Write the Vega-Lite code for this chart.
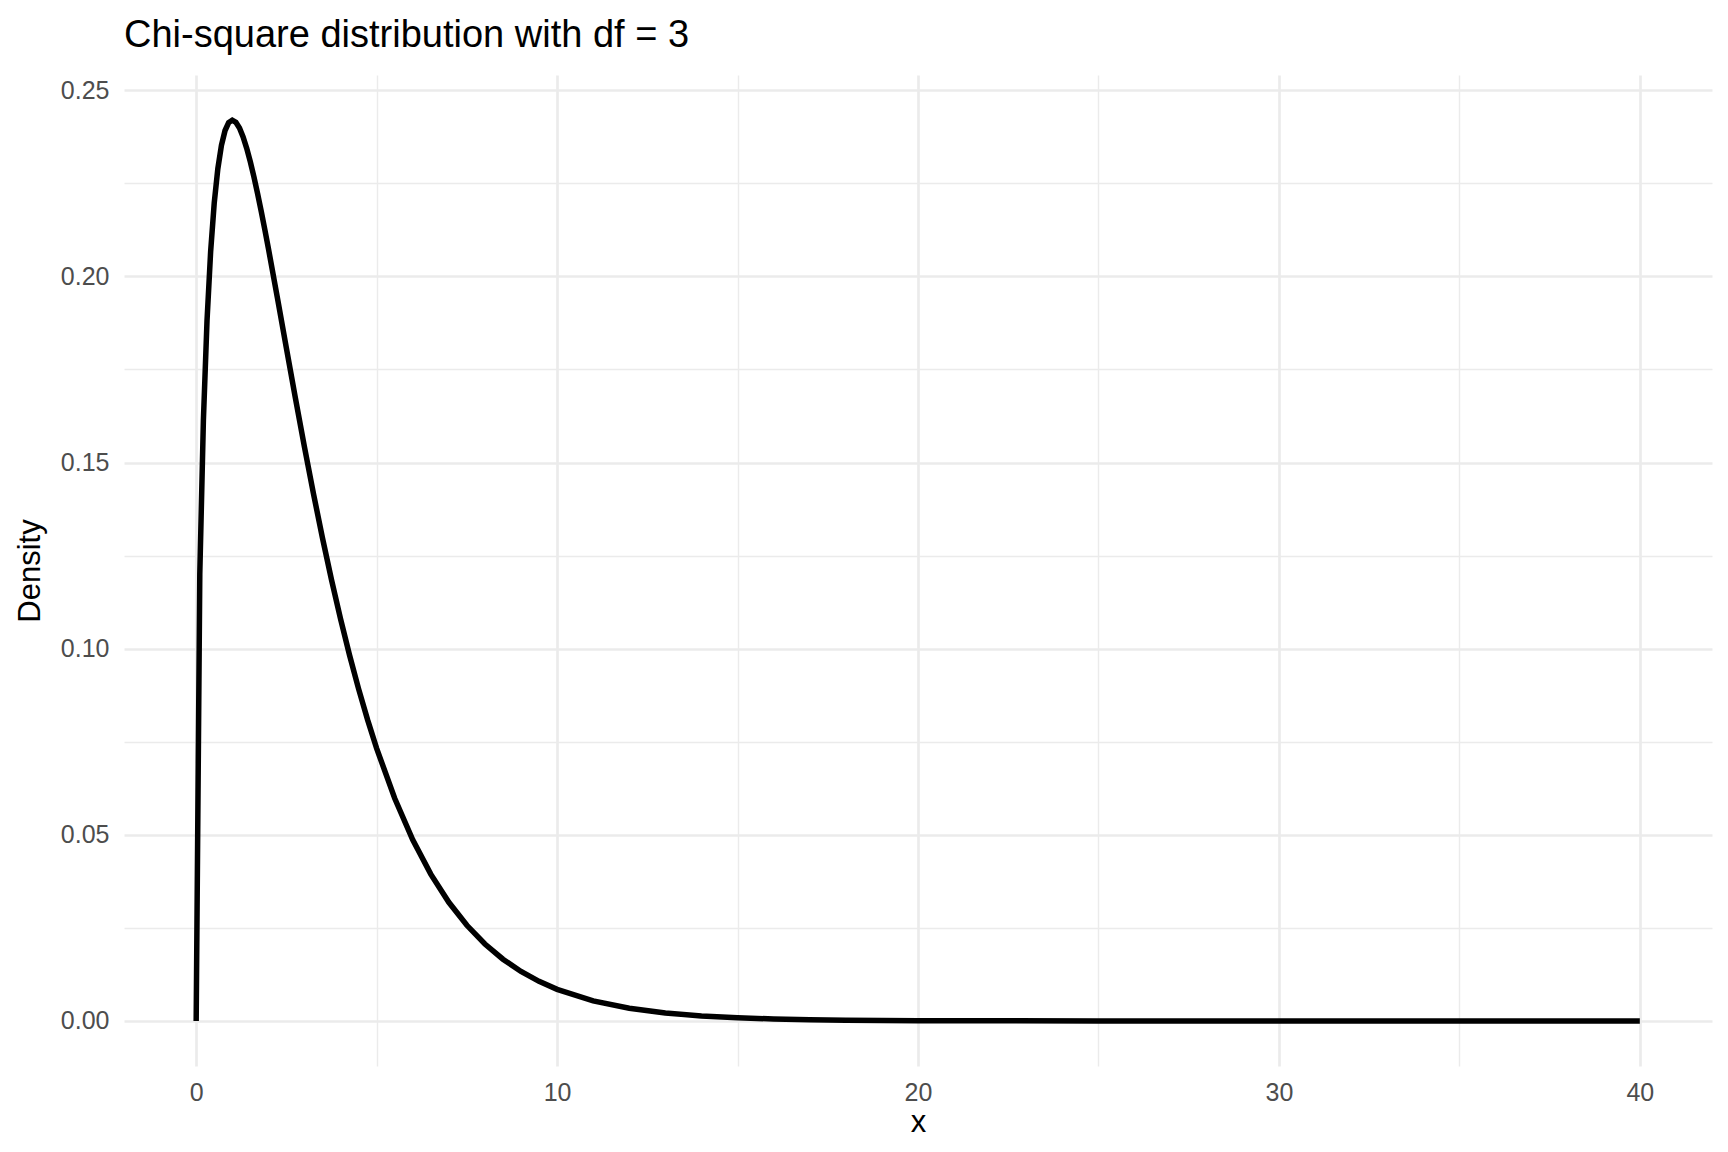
{
  "$schema": "https://vega.github.io/schema/vega-lite/v6.json",
  "width": 1588,
  "height": 991,
  "autosize": {"type": "none"},
  "padding": {"left": 124, "top": 75, "right": 16, "bottom": 86},
  "background": "white",
  "title": {
    "text": "Chi-square distribution with df = 3",
    "anchor": "start",
    "frame": "group",
    "font": "Liberation Sans",
    "fontSize": 38,
    "fontWeight": "normal",
    "color": "black",
    "baseline": "bottom",
    "offset": 22,
    "dy": 40
  },
  "config": {
    "view": {"stroke": null},
    "font": "Liberation Sans"
  },
  "data": {
    "values": [
      {"x": 0, "density": 0},
      {"x": 0.1, "density": 0.120004},
      {"x": 0.2, "density": 0.161434},
      {"x": 0.3, "density": 0.188073},
      {"x": 0.4, "density": 0.206576},
      {"x": 0.5, "density": 0.219696},
      {"x": 0.6, "density": 0.228927},
      {"x": 0.7, "density": 0.23521},
      {"x": 0.8, "density": 0.239187},
      {"x": 0.9, "density": 0.241323},
      {"x": 1.0, "density": 0.241971},
      {"x": 1.1, "density": 0.241404},
      {"x": 1.2, "density": 0.239842},
      {"x": 1.3, "density": 0.237459},
      {"x": 1.4, "density": 0.234405},
      {"x": 1.5, "density": 0.230797},
      {"x": 1.6, "density": 0.226743},
      {"x": 1.7, "density": 0.222323},
      {"x": 1.8, "density": 0.217611},
      {"x": 1.9, "density": 0.21267},
      {"x": 2.0, "density": 0.207554},
      {"x": 2.25, "density": 0.194275},
      {"x": 2.5, "density": 0.180721},
      {"x": 2.75, "density": 0.167271},
      {"x": 3.0, "density": 0.15418},
      {"x": 3.25, "density": 0.14162},
      {"x": 3.5, "density": 0.129697},
      {"x": 3.75, "density": 0.118474},
      {"x": 4.0, "density": 0.107982},
      {"x": 4.25, "density": 0.098227},
      {"x": 4.5, "density": 0.089198},
      {"x": 4.75, "density": 0.080873},
      {"x": 5.0, "density": 0.073225},
      {"x": 5.5, "density": 0.059811},
      {"x": 6.0, "density": 0.048652},
      {"x": 6.5, "density": 0.039437},
      {"x": 7.0, "density": 0.031873},
      {"x": 7.5, "density": 0.025695},
      {"x": 8.0, "density": 0.020667},
      {"x": 8.5, "density": 0.016591},
      {"x": 9.0, "density": 0.013296},
      {"x": 9.5, "density": 0.010639},
      {"x": 10, "density": 0.0085},
      {"x": 11, "density": 0.005408},
      {"x": 12, "density": 0.003426},
      {"x": 13, "density": 0.002162},
      {"x": 14, "density": 0.001361},
      {"x": 15, "density": 0.000855},
      {"x": 16, "density": 0.000535},
      {"x": 17, "density": 0.000334},
      {"x": 18, "density": 0.000209},
      {"x": 19, "density": 0.00013},
      {"x": 20, "density": 0.000081},
      {"x": 22, "density": 0.0000312},
      {"x": 25, "density": 0.0000074},
      {"x": 30, "density": 0.0000007},
      {"x": 35, "density": 0.00000006},
      {"x": 40, "density": 0.000000005}
    ]
  },
  "layer": [
    {
      "mark": {"type": "line", "opacity": 0},
      "encoding": {
        "x": {
          "field": "x", "type": "quantitative",
          "scale": {"domain": [-2, 42], "nice": false, "zero": false},
          "axis": {"orient": "top", "values": [5, 15, 25, 35], "grid": true, "gridColor": "#EBEBEB", "gridWidth": 1.4, "labels": false, "ticks": false, "domain": false, "title": null, "minExtent": 0, "maxExtent": 0, "offset": 0}
        },
        "y": {
          "field": "density", "type": "quantitative",
          "scale": {"domain": [-0.0121, 0.2541], "nice": false, "zero": false},
          "axis": {"orient": "right", "values": [0.025, 0.075, 0.125, 0.175, 0.225], "grid": true, "gridColor": "#EBEBEB", "gridWidth": 1.4, "labels": false, "ticks": false, "domain": false, "title": null, "minExtent": 0, "maxExtent": 0, "offset": 0}
        }
      }
    },
    {
      "mark": {"type": "line", "color": "black", "strokeWidth": 5.5},
      "encoding": {
        "x": {
          "field": "x", "type": "quantitative",
          "axis": {
            "orient": "bottom", "values": [0, 10, 20, 30, 40], "format": "d",
            "grid": true, "gridColor": "#EBEBEB", "gridWidth": 2.7,
            "ticks": false, "domain": false,
            "labelFontSize": 25, "labelColor": "#4D4D4D", "labelPadding": 14, "labelFont": "Liberation Sans",
            "title": "x", "titleFontSize": 31, "titleFontWeight": "normal", "titleColor": "black", "titleFont": "Liberation Sans", "titlePadding": 2
          }
        },
        "y": {
          "field": "density", "type": "quantitative",
          "axis": {
            "orient": "left", "values": [0, 0.05, 0.1, 0.15, 0.2, 0.25], "format": ".2f",
            "grid": true, "gridColor": "#EBEBEB", "gridWidth": 2.7,
            "ticks": false, "domain": false,
            "labelFontSize": 25, "labelColor": "#4D4D4D", "labelPadding": 15, "labelFont": "Liberation Sans",
            "title": "Density", "titleFontSize": 31, "titleFontWeight": "normal", "titleColor": "black", "titleFont": "Liberation Sans", "titlePadding": 14
          }
        }
      }
    }
  ],
  "resolve": {"axis": {"x": "independent", "y": "independent"}}
}
